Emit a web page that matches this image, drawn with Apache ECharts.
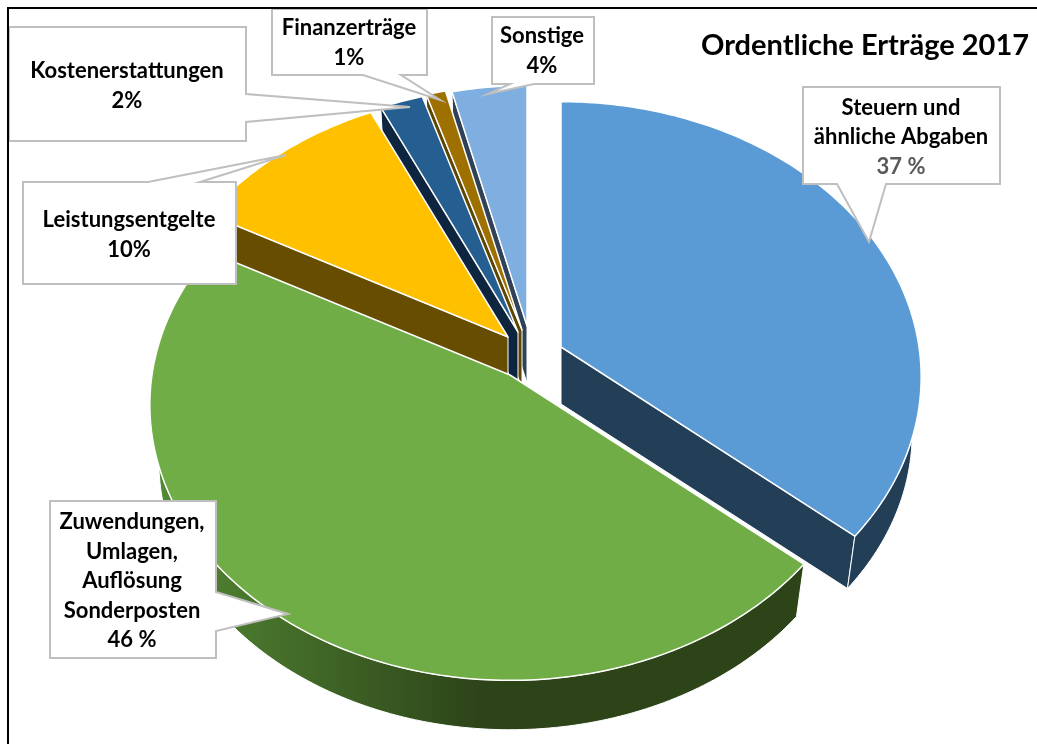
<!DOCTYPE html>
<html>
<head>
<meta charset="utf-8">
<style>
html, body { margin: 0; padding: 0; background: #fff; }
#chart { width: 1037px; height: 744px; }
</style>
</head>
<body>
<div id="chart"></div>
<script src="https://cdn.jsdelivr.net/npm/echarts@6/dist/echarts.min.js"></script>
<script>
var titleText = 'Ordentliche Erträge 2017'
var categories = ['Steuern und\nähnliche Abgaben', 'Zuwendungen,\nUmlagen,\nAuflösung\nSonderposten', 'Leistungsentgelte', 'Kostenerstattungen', 'Finanzerträge', 'Sonstige']
// shares, they round to the printed labels
var values = [36.5, 46, 10.4, 2.2, 1, 3.9]
var percentLabels = ['37 %', '46 %', '10%', '2%', '1%', '4%']

var topColors = ['#5B9BD5', '#70AD47', '#FFC000', '#255E91', '#9E7000', '#7FAFE0']
var sideColors = ['#233F58', null, '#664D00', '#0E2540', '#5E4500', '#2F4258']
// painter order, back to front
var drawOrder = [4, 5, 3, 2, 1, 0]
// projected centre of each exploded slice
var apex = [[561, 347], [510, 375], [508, 337], [518, 332], [522, 330], [527, 326]]
var sliceScale = [1, 1, 1, 1, 1, 0.98]

// fake 3d: disc radius, tilt, perspective
var R = 358
var tilt = 0.76
var persp = 0.109
var skew = 1.5 * Math.PI / 180
var depth = 57
var bottomScale = 0.975

var total = values.reduce(function(a, b) { return a + b }, 0)

function rimPoint(theta, scale) {
  var a = theta - skew * Math.sin(theta)
  var u = Math.sin(a)
  var v = -Math.cos(a)
  var s = scale / (1 - persp * v)
  return [R * u * s, R * tilt * v * s]
}

function sliceAngles(index) {
  var before = 0
  for (var i = 0; i < index; i++) before += values[i]
  return [before / total * Math.PI * 2, (before + values[index]) / total * Math.PI * 2]
}

function renderSlice(params, api) {
  var i = params.dataIndex
  var c = apex[i]
  var ang = sliceAngles(i)
  var steps = Math.max(2, Math.round((ang[1] - ang[0]) * 60))
  var rim = []
  for (var k = 0; k <= steps; k++) {
    rim.push(rimPoint(ang[0] + (ang[1] - ang[0]) * k / steps, sliceScale[i]))
  }
  function upper(p) { return [c[0] + p[0], c[1] + p[1]] }
  function lower(p) { return [c[0] + p[0] * bottomScale, c[1] + depth + p[1] * bottomScale] }

  var sideFill = sideColors[i]
  if (!sideFill) {
    // Excel style shading on the big green slice
    sideFill = new echarts.graphic.LinearGradient(150, 0, 480, 0, [
      { offset: 0, color: '#548A35' },
      { offset: 1, color: '#2D4419' }
    ], true)
  }
  var wall = { fill: sideFill, stroke: '#fff', lineWidth: 1 }
  var base = drawOrder[i] * 10
  var first = rim[0]
  var last = rim[rim.length - 1]
  var children = []

  // only the walls that face the viewer
  if (Math.sin(ang[0]) < -0.001) {
    children.push({ type: 'polygon', z2: base, shape: { points: [upper([0, 0]), upper(first), lower(first), lower([0, 0])] }, style: wall })
  }
  if (Math.sin(ang[1]) > 0.001) {
    children.push({ type: 'polygon', z2: base + 1, shape: { points: [upper([0, 0]), upper(last), lower(last), lower([0, 0])] }, style: wall })
  }
  if (first[1] > 0 || last[1] > 0) {
    children.push({ type: 'polygon', z2: base + 2, shape: { points: rim.map(upper).concat(rim.slice().reverse().map(lower)) }, style: wall })
  }
  children.push({
    type: 'polygon',
    z2: base + 3,
    shape: { points: [upper([0, 0])].concat(rim.map(upper)) },
    style: { fill: topColors[i], stroke: '#fff', lineWidth: 1.5, lineJoin: 'round' }
  })
  return { type: 'group', children: children }
}

// callout boxes: outline and text centre, same order as categories
var callouts = [
  { points: [[803, 87], [1000, 87], [1000, 184], [886, 184], [869, 242], [837, 184], [803, 184]], x: 901, y: 137 },
  { points: [[50, 501], [216, 501], [216, 592], [288, 614], [216, 631], [216, 658], [50, 658]], x: 132, y: 581 },
  { points: [[23, 182], [148, 182], [286, 155], [200, 182], [236, 182], [236, 284], [23, 284]], x: 129, y: 235 },
  { points: [[9, 27], [246, 27], [246, 94], [410, 107], [246, 122], [246, 141], [9, 141]], x: 127, y: 86 },
  { points: [[272, 9], [427, 9], [427, 75], [401, 75], [440, 100], [363, 75], [272, 75]], x: 349, y: 43 },
  { points: [[492, 17], [594, 17], [594, 84], [534, 84], [488, 94], [510, 84], [492, 84]], x: 542, y: 51 }
]

var graphics = []
callouts.forEach(function(box, i) {
  graphics.push({
    type: 'polygon',
    z: 10,
    silent: true,
    shape: { points: box.points },
    style: { fill: '#fff', stroke: '#BFBFBF', lineWidth: 2 }
  })
  var pctStyle = i === 0 ? 'grey' : 'dark'
  graphics.push({
    type: 'text',
    z: 11,
    silent: true,
    x: box.x,
    y: box.y,
    style: {
      text: categories[i].split('\n').map(function(line) { return '{dark|' + line + '}' }).join('\n') + '\n{' + pctStyle + '|' + percentLabels[i] + '}',
      align: 'center',
      verticalAlign: 'middle',
      rich: {
        dark: { font: 'bold 22px Lato, sans-serif', fill: '#000', lineHeight: 29.5 },
        grey: { font: 'bold 22px Lato, sans-serif', fill: '#595959', lineHeight: 29.5 }
      }
    }
  })
})
// chart frame, bleeds off the right and the bottom
graphics.push({
  type: 'polyline',
  z: 12,
  silent: true,
  shape: { points: [[8, 744], [8, 8], [1037, 8]] },
  style: { fill: null, stroke: '#000', lineWidth: 2 }
})
graphics.push({
  type: 'text',
  z: 11,
  silent: true,
  x: 865,
  y: 46,
  style: {
    text: titleText,
    align: 'center',
    verticalAlign: 'middle',
    font: 'bold 29px Lato, sans-serif',
    fill: '#000'
  }
})

var chart = echarts.init(document.getElementById('chart'))
chart.setOption({
  animation: false,
  graphic: graphics,
  series: [{
    type: 'custom',
    coordinateSystem: 'none',
    silent: true,
    data: values,
    renderItem: renderSlice
  }]
})
</script>
</body>
</html>
